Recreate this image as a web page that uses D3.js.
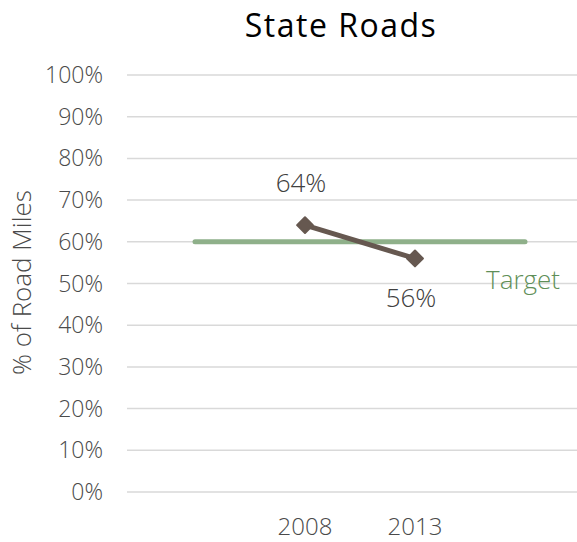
<!DOCTYPE html>
<html>
<head>
    <meta charset="utf-8">
    <title>State Roads</title>
    <script src="https://d3js.org/d3.v7.min.js"></script>
    <style>
        body { margin: 0; background: #fff; }
        text { font-family: "Open Sans", Lato, sans-serif; font-weight: 300; }
    </style>
</head>
<body>
    <script>
        // Chart data
        const categories = ["", "2008", "2013", " "];
        const years = ["2008", "2013"];
        const values = [64, 56];
        const targetValue = 60;
        const yTicks = [0, 10, 20, 30, 40, 50, 60, 70, 80, 90, 100];

        const width = 577, height = 542;

        const svg = d3.select("body")
            .append("svg")
            .attr("width", width)
            .attr("height", height);

        // Scales
        const x = d3.scalePoint()
            .domain(categories)
            .range([140, 580])
            .padding(0.5);

        const y = d3.scaleLinear()
            .domain([0, 100])
            .range([492, 75]);

        // Title
        svg.append("text")
            .attr("x", 341)
            .attr("y", 37)
            .attr("text-anchor", "middle")
            .style("font-size", "32px")
            .style("font-weight", 400)
            .style("letter-spacing", "1.5px")
            .style("fill", "#000")
            .text("State Roads");

        // Gridlines
        svg.append("g")
            .selectAll("line")
            .data(yTicks)
            .enter()
            .append("line")
            .attr("x1", 127)
            .attr("x2", width)
            .attr("y1", d => y(d))
            .attr("y2", d => y(d))
            .style("stroke", "#d9d9d9")
            .style("stroke-width", 1.5);

        // Y tick labels
        svg.append("g")
            .selectAll("text")
            .data(yTicks)
            .enter()
            .append("text")
            .attr("x", 103)
            .attr("y", d => y(d))
            .attr("dy", "0.35em")
            .attr("text-anchor", "end")
            .style("font-size", "23px")
            .style("fill", "#4a4a4a")
            .text(d => d + "%");

        // Y axis title
        svg.append("text")
            .attr("transform", "translate(31," + (y(50) - 1) + ") rotate(-90)")
            .attr("text-anchor", "middle")
            .style("font-size", "26px")
            .style("fill", "#4a4a4a")
            .text("% of Road Miles");

        // X tick labels
        svg.append("g")
            .selectAll("text")
            .data(years)
            .enter()
            .append("text")
            .attr("x", d => x(d))
            .attr("y", 535)
            .attr("text-anchor", "middle")
            .style("font-size", "24px")
            .style("fill", "#4a4a4a")
            .text(d => d);

        // Target line
        svg.append("line")
            .attr("x1", x(categories[0]))
            .attr("x2", x(categories[categories.length - 1]))
            .attr("y1", y(targetValue))
            .attr("y2", y(targetValue))
            .style("stroke", "#8fb08a")
            .style("stroke-width", 5)
            .style("stroke-linecap", "round");

        svg.append("text")
            .attr("x", 486)
            .attr("y", 289)
            .style("font-size", "26px")
            .style("fill", "#5f8f58")
            .text("Target");

        // Data line
        const pts = years.map((d, i) => [x(d), y(values[i])]);
        svg.append("path")
            .datum(pts)
            .attr("d", d3.line())
            .style("fill", "none")
            .style("stroke", "#665850")
            .style("stroke-width", 5);

        svg.append("g")
            .selectAll("path")
            .data(pts)
            .enter()
            .append("path")
            .attr("transform", d => "translate(" + d[0] + "," + d[1] + ")")
            .attr("d", d3.symbol().type(d3.symbolDiamond2).size(160))
            .style("fill", "#665850")
            .style("stroke", "#665850")
            .style("stroke-width", 2)
            .style("stroke-linejoin", "round");

        // Data labels
        svg.append("g")
            .selectAll("text")
            .data(years)
            .enter()
            .append("text")
            .attr("x", d => x(d) - 4)
            .attr("y", (d, i) => i === 0 ? y(values[i]) - 33 : y(values[i]) + 49)
            .attr("text-anchor", "middle")
            .style("font-size", "26px")
            .style("fill", "#404040")
            .text((d, i) => values[i] + "%");
    </script>
</body>
</html>
